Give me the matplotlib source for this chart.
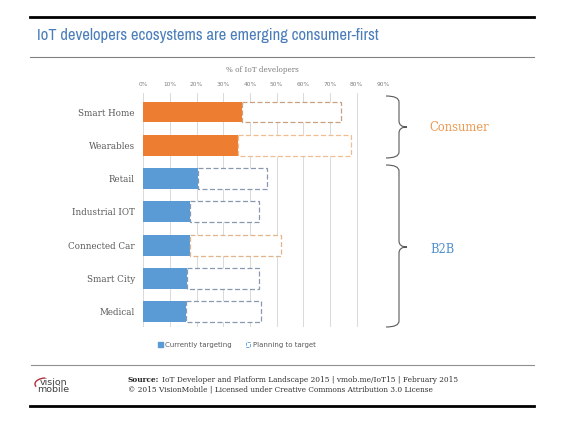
import numpy as np
import matplotlib
matplotlib.use("Agg")
import matplotlib.pyplot as plt
from matplotlib import font_manager
from matplotlib.path import Path
from matplotlib.patches import PathPatch, Patch, Arc
from matplotlib.lines import Line2D

# data (% of IoT developers)
categories = ["Smart Home", "Wearables", "Retail", "Industrial IOT",
              "Connected Car", "Smart City", "Medical"]
current = [37, 35.5, 20.5, 17.5, 17.5, 16.5, 16]
planning = [37, 42.5, 26, 26, 34, 27, 28]
tick_vals = [0, 10, 20, 30, 40, 50, 60, 70, 80, 90]
tick_labels = ["0%", "10%", "20%", "30%", "40%", "50%", "60%", "70%", "80%", "90%"]

ORANGE = "#ED7D31"
BLUE = "#5B9BD5"
fill_colors = [ORANGE, ORANGE, BLUE, BLUE, BLUE, BLUE, BLUE]
edge_colors = ["#c9a080", "#f0bc90", "#8898b0", "#8898b0", "#e3b48c", "#8898b0", "#8898b0"]

W, H = 564, 423


def fx(px):
    return px / W


def fy(py):
    return 1 - py / H


# look for a narrow / condensed upright face for the title
narrow, condensed = None, None
for f in font_manager.fontManager.ttflist:
    key = (f.name + " " + f.fname).lower()
    if any(s in key for s in ("bold", "italic", "oblique")):
        continue
    if "narrow" in key and narrow is None:
        narrow = f.fname
    elif "condensed" in key and condensed is None:
        condensed = f.fname
if narrow or condensed:
    title_font = font_manager.FontProperties(fname=narrow or condensed)
else:
    title_font = font_manager.FontProperties(family="DejaVu Sans")

fig = plt.figure(figsize=(5.64, 4.23), dpi=100)
fig.patch.set_facecolor("white")

# main axes
ax = fig.add_axes([fx(143.3), fy(327), (383.3 - 143.3) / W, (327 - 93) / H])
y = np.arange(len(categories))
ax.barh(y, current, height=0.63, color=fill_colors, zorder=3)
ax.barh(y, planning, left=current, height=0.63, facecolor="white",
        edgecolor=edge_colors, linestyle=(0, (4, 2)), linewidth=0.9, zorder=3)
ax.set_xlim(0, 90)
ax.set_ylim(6.46, -0.571)
ax.set_yticks(y)
ax.set_yticklabels(categories, family="DejaVu Serif", fontsize=6.3, color="#595959")
ax.xaxis.tick_top()
ax.set_xticks(tick_vals)
ax.set_xticklabels(tick_labels, fontsize=4.2, color="#808080")
ax.tick_params(axis="both", length=0)
ax.tick_params(axis="y", pad=6)
ax.tick_params(axis="x", pad=4)
ax.grid(axis="x", color="#d9d9d9", linewidth=0.7, zorder=0)
for s in ax.spines.values():
    s.set_visible(False)

fig.text(fx(262), fy(69.5), "% of IoT developers", family="DejaVu Serif",
         fontsize=5.2, color="#7f7f7f", ha="center", va="center")

# title, sized to the reference width
title = fig.text(fx(37), fy(40), "IoT developers ecosystems are emerging consumer-first",
                 fontproperties=title_font, color="#4a7ebb", ha="left", va="baseline")
title.set_fontsize(15)
fig.canvas.draw()
w = title.get_window_extent().width
title.set_fontsize(min(15 * 341 / w, 16))

# rules
fig.add_artist(Line2D([fx(30), fx(534)], [fy(17.5), fy(17.5)], color="black", lw=2.0))
fig.add_artist(Line2D([fx(30), fx(534)], [fy(56.7), fy(56.7)], color="#808080", lw=0.8))
fig.add_artist(Line2D([fx(31), fx(534)], [fy(365), fy(365)], color="#909090", lw=0.8))
fig.add_artist(Line2D([fx(30), fx(534)], [fy(406), fy(406)], color="black", lw=2.0))


def brace(x0, xm, x1, ytop, ybot, ytip, r=6):
    pts = [(x0, ytop), (xm, ytop), (xm, ytop + r),
           (xm, ytip - r), (xm, ytip), (x1, ytip),
           (xm, ytip), (xm, ytip + r),
           (xm, ybot - r), (xm, ybot), (x0, ybot)]
    codes = [Path.MOVETO, Path.CURVE3, Path.CURVE3,
             Path.LINETO, Path.CURVE3, Path.CURVE3,
             Path.CURVE3, Path.CURVE3,
             Path.LINETO, Path.CURVE3, Path.CURVE3]
    verts = [(fx(a), fy(b)) for a, b in pts]
    fig.add_artist(PathPatch(Path(verts, codes), transform=fig.transFigure,
                             fill=False, edgecolor="#595959", lw=0.8))


brace(386, 399, 407, 96, 158, 127)
brace(386, 399, 407, 165, 327, 247)

fig.text(fx(429), fy(127.5), "Consumer", family="DejaVu Serif", fontsize=8.3,
         color="#E99A50", ha="left", va="center")
fig.text(fx(430), fy(249), "B2B", family="DejaVu Serif", fontsize=8.3,
         color="#4F8FCC", ha="left", va="center")

# legend
handles = [Patch(facecolor=BLUE, edgecolor=BLUE),
           Patch(facecolor="white", edgecolor=BLUE, linestyle="--", linewidth=0.6)]
fig.legend(handles, ["Currently targeting", "Planning to target"], loc="center",
           bbox_to_anchor=(fx(237), fy(345)), ncol=2, frameon=False, fontsize=5,
           handlelength=0.6, handleheight=0.6, handletextpad=0.4, columnspacing=2.0,
           labelcolor="#595959")

# footer
fig.add_artist(Arc((fx(46), fy(384)), 22 / W, 12 / H, theta1=95, theta2=200,
                   transform=fig.transFigure, color="#b0303a", lw=1.0))
fig.text(fx(40), fy(382), "vision", fontsize=6.8, color="#404040",
         ha="left", va="center")
fig.text(fx(37), fy(389.5), "mobile", fontsize=6.8, color="#404040",
         ha="left", va="center")
src = fig.text(fx(128), fy(380), "Source:", family="DejaVu Serif", fontsize=5.3,
               weight="bold", color="#202020", ha="left", va="center")
fig.canvas.draw()
src_end = src.get_window_extent().x1
fig.text((src_end + 2.5) / W, fy(380),
         "IoT Developer and Platform Landscape 2015 | vmob.me/IoT15 | February 2015",
         family="DejaVu Serif", fontsize=5.3, color="#303030", ha="left", va="center")
fig.text(fx(128), fy(389.3), "\u00a9 2015 VisionMobile | Licensed under Creative Commons Attribution 3.0 License",
         family="DejaVu Serif", fontsize=5.3, color="#303030", ha="left", va="center")

fig.savefig("out.png", dpi=100)
